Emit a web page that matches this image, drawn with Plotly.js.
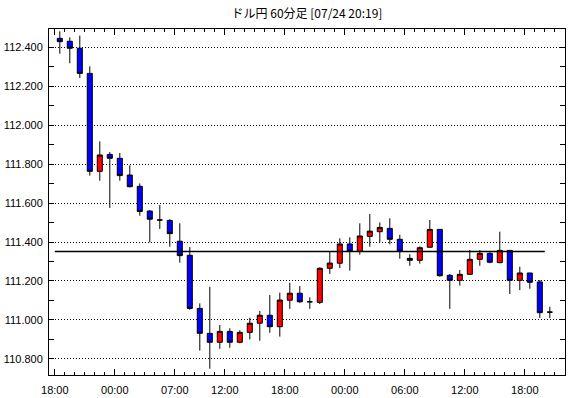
<!DOCTYPE html>
<html>
<head>
<meta charset="utf-8">
<script src="https://cdn.plot.ly/plotly-3.0.1.min.js"></script>
<style>html,body{margin:0;padding:0;background:#fff;}#chart{width:570px;height:398px;}</style>
</head>
<body>
<div id="chart"></div>
<script>
// Hourly candle times (60分足)
const times = ['18:00','19:00','20:00','21:00','22:00','23:00',
  '00:00','01:00','02:00','03:00','04:00','05:00',
  '07:00','08:00','09:00','10:00','11:00',
  '12:00','13:00','14:00','15:00','16:00','17:00',
  '18:00','19:00','20:00','21:00','22:00','23:00',
  '00:00','01:00','02:00','03:00','04:00','05:00',
  '06:00','07:00','08:00','09:00','10:00','11:00',
  '12:00','13:00','14:00','15:00','16:00','17:00',
  '18:00','19:00','20:00'];
const openV  = [112.446,112.431,112.395,112.266,111.763,111.850,111.830,111.744,111.686,111.559,111.513,111.511,111.404,111.332,111.059,110.931,110.885,110.941,110.885,110.936,110.983,111.024,110.965,111.101,111.137,111.093,111.090,111.265,111.291,111.390,111.352,111.429,111.453,111.470,111.414,111.316,111.306,111.373,111.465,111.229,111.203,111.234,111.311,111.342,111.294,111.357,111.203,111.241,111.195,111.040];
const highV  = [112.482,112.451,112.460,112.302,111.917,111.862,111.857,111.794,111.701,111.564,111.590,111.517,111.496,111.374,111.085,111.170,110.974,110.957,110.947,111.011,111.046,111.128,111.140,111.191,111.174,111.116,111.270,111.350,111.419,111.424,111.496,111.544,111.501,111.522,111.437,111.337,111.378,111.513,111.465,111.236,111.256,111.359,111.359,111.347,111.453,111.357,111.273,111.241,111.205,111.068];
const lowV   = [112.367,112.318,112.242,111.741,111.715,111.575,111.715,111.681,111.535,111.398,111.467,111.376,111.294,111.052,110.842,110.749,110.852,110.857,110.880,110.900,110.893,110.934,110.914,111.057,111.088,111.057,111.082,111.236,111.266,111.253,111.335,111.376,111.398,111.388,111.314,111.278,111.289,111.373,111.222,111.057,111.176,111.234,111.278,111.291,111.291,111.133,111.153,111.160,111.010,111.010];
const closeV = [112.429,112.395,112.266,111.763,111.847,111.830,111.741,111.684,111.557,111.517,111.513,111.443,111.330,111.059,110.931,110.885,110.941,110.885,110.936,110.983,111.024,110.965,111.102,111.137,111.093,111.093,111.265,111.292,111.390,111.352,111.431,111.456,111.475,111.414,111.352,111.306,111.371,111.465,111.227,111.203,111.234,111.311,111.342,111.296,111.357,111.203,111.241,111.193,111.037,111.040];
const tickLabels = ['18:00','00:00','07:00','12:00','18:00','00:00','06:00','12:00','18:00'];
const refLevel = 111.351;
const yTickVals = [110.8,111.0,111.2,111.4,111.6,111.8,112.0,112.2,112.4];

const xIdx = times.map((t,i)=>i+1);
// find tick positions sequentially
const tickVals = [];
let p = 0;
for (const lab of tickLabels) {
  while (p < times.length && times[p] !== lab) p++;
  tickVals.push(p + 1 - 0.5);
  p++;
}

const trace = {
  type: 'candlestick',
  x: xIdx, open: openV, high: highV, low: lowV, close: closeV,
  increasing: {line: {color: '#000000', width: 1}, fillcolor: '#FF0000'},
  decreasing: {line: {color: '#000000', width: 1}, fillcolor: '#0000FF'},
  whiskerwidth: 0,
  hoverinfo: 'skip',
  showlegend: false
};

const fnt = {family: 'Liberation Sans, Arial, sans-serif', size: 11, color: '#000'};
const layout = {
  width: 570, height: 398,
  margin: {l: 49, r: 5, t: 29, b: 23, pad: 0},
  paper_bgcolor: '#fff', plot_bgcolor: '#fff',
  boxgap: 0.28,
  title: {text: 'ドル円 60分足 [07/24 20:19]', font: {family: 'Noto Sans CJK JP, sans-serif', size: 12, color: '#000'},
          x: 0.5, xref: 'paper', y: 1 - 14/398, yref: 'container', yanchor: 'middle'},
  xaxis: {
    type: 'linear', range: [-0.08, 51.52], rangeslider: {visible: false},
    tickmode: 'array', tickvals: tickVals, ticktext: tickLabels,
    ticks: 'inside', ticklen: 6, tickwidth: 1, tickcolor: '#000',
    minor: {tickmode: 'linear', tick0: 0.5, dtick: 1, ticks: 'inside', ticklen: 3, tickwidth: 1, tickcolor: '#000', showgrid: false},
    showline: true, linecolor: '#000', linewidth: 1, mirror: 'allticks',
    showgrid: false, zeroline: false, tickfont: fnt, ticklabelstandoff: 5, fixedrange: true
  },
  yaxis: {
    range: [110.717, 112.494],
    tickmode: 'array', tickvals: yTickVals, tickformat: '.3f',
    ticks: 'inside', ticklen: 5, tickwidth: 1, tickcolor: '#000',
    minor: {tickmode: 'linear', tick0: 110.7, dtick: 0.1, ticks: 'inside', ticklen: 5, tickwidth: 1, tickcolor: '#000', showgrid: false},
    showline: true, linecolor: '#000', linewidth: 1, mirror: 'allticks',
    showgrid: true, gridcolor: '#000', gridwidth: 1, griddash: '1px,2px',
    zeroline: false, tickfont: fnt, ticklabelstandoff: 3, fixedrange: true
  },
  shapes: [{type: 'line', xref: 'x', yref: 'y', x0: xIdx[0] - 0.5, x1: xIdx[xIdx.length - 2] + 0.5,
            y0: refLevel, y1: refLevel, line: {color: '#000', width: 1.5}, layer: 'above'}]
};

Plotly.newPlot('chart', [trace], layout, {staticPlot: true, displayModeBar: false});
</script>
</body>
</html>
